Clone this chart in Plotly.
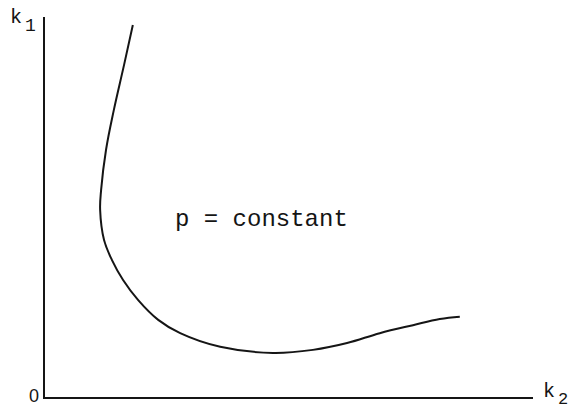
import plotly.graph_objects as go

# Iso-p curve in the (k2, k1) plane, arbitrary units
k2_vals = [1.80, 1.62, 1.41, 1.25, 1.15, 1.13, 1.21, 1.37, 1.60, 1.91, 2.32, 2.77,
           3.59, 4.67, 5.49, 6.19, 6.86, 7.54, 8.09, 8.50]
k1_vals = [9.79, 8.74, 7.55, 6.50, 5.45, 4.92, 4.13, 3.61, 3.08, 2.55, 2.03, 1.68,
           1.32, 1.16, 1.24, 1.42, 1.68, 1.89, 2.05, 2.11]

curve_label = "p = constant"
origin_label = "0"
# axis symbols drawn as letter + lowered index
x_sym, x_idx = "k", "2"
y_sym, y_idx = "k", "1"

MONO = "Liberation Mono, Courier New, monospace"
SANS = "Liberation Sans, Arial, sans-serif"
INK = "#151515"


def px_to_paper(px, py, l=45, r=533, t=17, b=397):
    return (px - l) / (r - l), (b - py) / (b - t)


def label(text, px, py, size, family=MONO):
    x, y = px_to_paper(px, py)
    return dict(x=x, y=y, xref="paper", yref="paper", text=text, showarrow=False,
                xanchor="center", yanchor="middle",
                font=dict(family=family, size=size, color=INK))


fig = go.Figure()
fig.add_trace(go.Scatter(
    x=k2_vals, y=k1_vals, mode="lines",
    line=dict(color=INK, width=2, shape="spline", smoothing=1.1),
    hoverinfo="skip", showlegend=False,
))

fig.update_layout(
    width=573, height=409,
    margin=dict(l=45, r=40, t=17, b=12),
    paper_bgcolor="white", plot_bgcolor="white",
    showlegend=False,
    xaxis=dict(range=[0, 10], showgrid=False, zeroline=False, showticklabels=False,
               ticks="", showline=True, linecolor=INK, linewidth=2),
    yaxis=dict(range=[0, 10], showgrid=False, zeroline=False, showticklabels=False,
               ticks="", showline=True, linecolor=INK, linewidth=2),
    font=dict(family=MONO, color=INK),
    annotations=[
        dict(x=4.44, y=4.66, xref="x", yref="y", text=curve_label, showarrow=False,
             xanchor="center", yanchor="middle",
             font=dict(family=MONO, size=24, color=INK)),
        label(y_sym, 16, 17, 20),
        label(y_idx, 30, 26, 18),
        label(x_sym, 549, 391, 20),
        label(x_idx, 563, 399, 17),
        label(origin_label, 34, 396, 18, SANS),
    ],
)

fig.write_html("out.html")
